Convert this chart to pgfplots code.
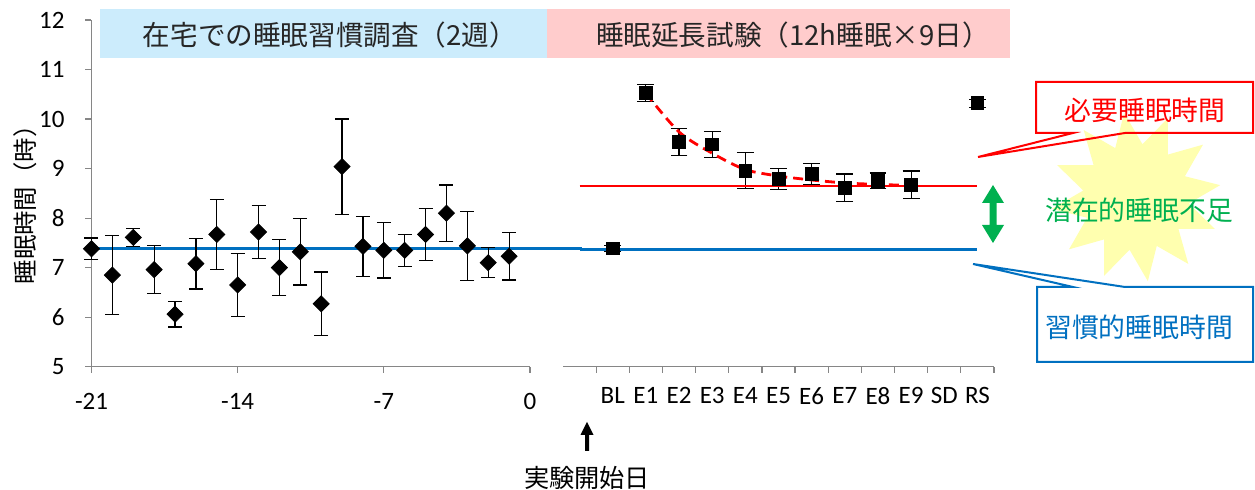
\documentclass[border=0pt]{standalone}
\usepackage{pgfplots}
\pgfplotsset{compat=1.18}
\usepackage{pgfplotstable}
\usepackage{fontspec}
\setmainfont{Carlito}
\newfontfamily\jp{Noto Sans CJK JP}
\usetikzlibrary{shapes.geometric}
\definecolor{axgray}{RGB}{134,134,134}
\definecolor{lineblue}{RGB}{0,112,192}
\definecolor{linered}{RGB}{255,0,0}
\definecolor{arrgreen}{RGB}{0,176,80}
\definecolor{bandblue}{RGB}{204,236,252}
\definecolor{bandpink}{RGB}{255,204,204}
\definecolor{staryellow}{RGB}{255,255,175}
\definecolor{titletext}{RGB}{38,38,38}

\pgfplotstableread{
x y e
-21 7.38 0.22
-20 6.85 0.80
-19 7.61 0.18
-18 6.96 0.48
-17 6.06 0.26
-16 7.08 0.51
-15 7.67 0.70
-14 6.65 0.63
-13 7.72 0.54
-12 7.00 0.57
-11 7.32 0.67
-10 6.27 0.64
-9 9.04 0.96
-8 7.43 0.61
-7 7.35 0.56
-6 7.35 0.32
-5 7.67 0.52
-4 8.10 0.57
-3 7.44 0.70
-2 7.10 0.30
-1 7.23 0.48
}\lefttable

\pgfplotstableread{
x y e
1 7.39 0.06
2 10.53 0.17
3 9.54 0.27
4 9.49 0.26
5 8.96 0.36
6 8.79 0.21
7 8.89 0.21
8 8.61 0.28
9 8.75 0.16
10 8.67 0.28
12 10.32 0.08
}\righttable

\begin{document}
\begin{tikzpicture}
\begin{scope}[x=0.5pt,y=-0.5pt]
  \fill[bandblue] (100,9) rectangle (547,58);
  \fill[bandpink] (547,9) rectangle (1010,58);
  \node[font=\jp\fontsize{13.8}{14}\selectfont, text=titletext, inner sep=0pt] at (330,35) {在宅での睡眠習慣調査（2週）};
  \node[font=\jp\fontsize{13.8}{14}\selectfont, text=titletext, inner sep=0pt] at (793,35) {睡眠延長試験（12h睡眠×9日）};
  \node[star, star points=12, star point ratio=1.6, minimum size=85pt, fill=staryellow, inner sep=0pt, rotate=8] at (1136,197) {};
\end{scope}

\begin{axis}[
  at={(45.75pt,-183.35pt)}, anchor=south west,
  scale only axis, width=219.25pt, height=173.35pt,
  xmin=-21, xmax=0, ymin=5, ymax=12,
  axis lines*=left,
  axis line style={axgray, line width=0.6pt, -},
  xtick={-21,-14,-7,0}, ytick={5,6,...,12},
  tick align=outside, major tick length=3pt,
  tick style={axgray, line width=0.6pt},
  every tick label/.append style={font=\fontsize{12.5}{13}\selectfont, text=black},
  xticklabel style={yshift=-7pt},
  yticklabel style={xshift=-7pt},
  /pgf/number format/assume math mode=true,
  clip=false,
]
\addplot[lineblue, line width=1.4pt, mark=none, forget plot] coordinates {(-21,7.38) (2.5,7.38)};
\addplot[only marks, mark=square*, mark size=2.83pt, mark options={rotate=45, fill=black, draw=black},
  error bars/.cd, y dir=both, y explicit,
  error bar style={black, line width=0.6pt},
  error mark options={black, line width=0.6pt, mark size=3.5pt, rotate=90}]
  table[x=x, y=y, y error=e]{\lefttable};
\end{axis}

\begin{axis}[
  at={(281.5pt,-183.35pt)}, anchor=south west,
  scale only axis, width=215.5pt, height=173.35pt,
  xmin=-0.5, xmax=12.5, ymin=5, ymax=12,
  axis x line*=bottom, axis y line=none,
  axis line style={axgray, line width=0.6pt, -},
  xtick={0.5,1.5,...,12.5}, xticklabels={},
  extra x ticks={1,2,3,4,5,6,7,8,9,10,11,12},
  extra x tick labels={BL,E1,E2,E3,E4,E5,E6,E7,E8,E9,SD,RS},
  extra x tick style={major tick length=0pt},
  tick align=outside, major tick length=3pt,
  tick style={axgray, line width=0.6pt},
  every tick label/.append style={font=\fontsize{12.5}{13}\selectfont, text=black},
  xticklabel style={yshift=-7pt},
  clip=false,
]
\addplot[lineblue, line width=1.4pt, mark=none] coordinates {(0,7.37) (12,7.37)};
\addplot[only marks, mark=square*, mark size=3.2pt, mark options={fill=black, draw=black},
  error bars/.cd, y dir=both, y explicit,
  error bar style={black, line width=0.6pt},
  error mark options={black, line width=0.6pt, mark size=4.2pt, rotate=90}]
  table[x=x, y=y, y error=e]{\righttable};
\addplot[linered, line width=1.4pt, mark=none] coordinates {(0,8.65) (12,8.65)};
\addplot[linered, line width=1.4pt, mark=none, dash pattern=on 5pt off 3pt, smooth]
  coordinates {(2,10.52) (3,9.74) (4,9.31) (5,8.98) (6,8.85) (7,8.77) (8,8.71) (9,8.68) (10,8.66)};
\end{axis}

\begin{scope}[x=0.5pt,y=-0.5pt]
  % red callout
  \draw[linered, line width=1pt, line join=miter]
    (1036,82) -- (1253,82) -- (1253,133) -- (1125,133) -- (978,157) -- (1073,133) -- (1036,133) -- cycle;
  \node[font=\jp\fontsize{13.4}{14}\selectfont, text=linered, inner sep=0pt] at (1145,110) {必要睡眠時間};
  % blue callout
  \draw[lineblue, line width=1pt, line join=miter]
    (1037,287) -- (1073,287) -- (973,264) -- (1125,287) -- (1253,287) -- (1253,362) -- (1037,362) -- cycle;
  \node[font=\jp\fontsize{13.4}{14}\selectfont, text=lineblue, inner sep=0pt] at (1139,327) {習慣的睡眠時間};
  % green text
  \node[font=\jp\fontsize{13.4}{14}\selectfont, text=arrgreen, inner sep=0pt] at (1139,210) {潜在的睡眠不足};
  % green double arrow
  \fill[arrgreen] (993,185) -- (1004,203) -- (996.5,203) -- (996.5,225) -- (1004,225) -- (993,243)
    -- (982,225) -- (989.5,225) -- (989.5,203) -- (982,203) -- cycle;
  % up arrow
  \fill[black] (587,422) -- (593.5,435) -- (589,435) -- (589,451) -- (585,451) -- (585,435) -- (580.5,435) -- cycle;
  \node[font=\jp\fontsize{12.6}{13}\selectfont, inner sep=0pt] at (587,478) {実験開始日};
  % y label
  \node[font=\jp\fontsize{12.2}{13}\selectfont, inner sep=0pt, rotate=90] at (25,199) {睡眠時間（時）};
  \pgfresetboundingbox
  \path (0,0) rectangle (1255,490);
\end{scope}
\end{tikzpicture}
\end{document}
